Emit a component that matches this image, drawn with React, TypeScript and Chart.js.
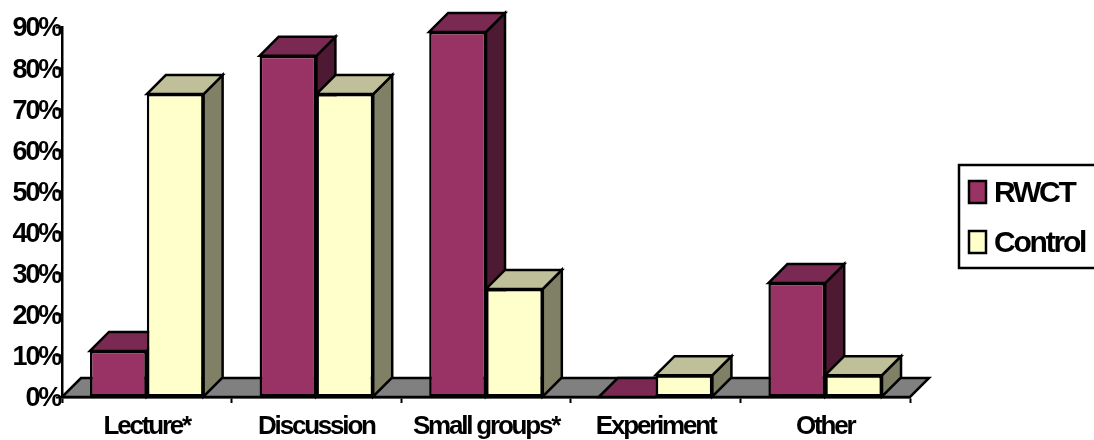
import React, { useEffect, useRef } from "react";
import { Chart, registerables } from "chart.js";

Chart.register(...registerables);

const categories = ["Lecture*", "Discussion", "Small groups*", "Experiment", "Other"];
const rwctValues = [11.2, 83, 88.8, 0, 27.7];
const controlValues = [73.7, 73.7, 26.3, 5.3, 5.3];

const FONT = "'Liberation Sans', Arial, sans-serif";
const DEPTH = 19;
const STROKE = "#000000";
const LINE = 2.5;
const TRACKING = "-2.2px";

const palette = {
  rwct: { front: "#993366", top: "#7A2952", side: "#4D1933" },
  control: { front: "#FFFFCC", top: "#BFBF99", side: "#808066" },
  floor: "#808080",
};

function polygon(ctx: CanvasRenderingContext2D, pts: number[][], fill: string) {
  ctx.beginPath();
  pts.forEach(([x, y], i) => (i ? ctx.lineTo(x, y) : ctx.moveTo(x, y)));
  ctx.closePath();
  ctx.fillStyle = fill;
  ctx.fill();
  ctx.strokeStyle = STROKE;
  ctx.lineWidth = LINE;
  ctx.lineJoin = "miter";
  ctx.stroke();
}

// Tight tracking applies to all chart text, and must be set before text is measured.
const tightText = {
  id: "tightText",
  beforeUpdate(chart: any) {
    chart.ctx.letterSpacing = TRACKING;
  },
  beforeDraw(chart: any) {
    chart.ctx.letterSpacing = TRACKING;
  },
};

// Framed key at the right edge; its frame runs off the canvas on that side.
const framedKey = {
  id: "framedKey",
  afterDraw(chart: any) {
    const ctx = chart.ctx;
    ctx.save();
    ctx.strokeStyle = STROKE;
    ctx.lineWidth = LINE;
    ctx.strokeRect(959, 165, 160, 103);
    ctx.font = `bold 30px ${FONT}`;
    ctx.textAlign = "left";
    ctx.textBaseline = "middle";
    chart.data.datasets.forEach((dataset: any, i: number) => {
      const cy = 192 + i * 50;
      ctx.fillStyle = dataset.backgroundColor;
      ctx.fillRect(969, cy - 11, 17, 22);
      ctx.strokeRect(969, cy - 11, 17, 22);
      ctx.fillStyle = "#000000";
      ctx.fillText(dataset.label, 994, cy + 2);
    });
    ctx.restore();
  },
};

// Draws the floor and the top and side faces behind each bar's front face.
const extrusion = {
  id: "extrusion",
  beforeDatasetsDraw(chart: any) {
    const ctx = chart.ctx;
    const { left, right, bottom } = chart.chartArea;
    ctx.save();
    polygon(
      ctx,
      [
        [left, bottom],
        [left + DEPTH, bottom - DEPTH],
        [right + DEPTH, bottom - DEPTH],
        [right, bottom],
      ],
      palette.floor
    );
    const shades = [palette.rwct, palette.control];
    categories.forEach((_, index) => {
      shades.forEach((shade, datasetIndex) => {
        const bar = chart.getDatasetMeta(datasetIndex).data[index];
        const x0 = bar.x - bar.width / 2;
        const x1 = bar.x + bar.width / 2;
        const yTop = bar.y;
        const yBase = bar.base;
        polygon(
          ctx,
          [
            [x1, yTop],
            [x1 + DEPTH, yTop - DEPTH],
            [x1 + DEPTH, yBase - DEPTH],
            [x1, yBase],
          ],
          shade.side
        );
        polygon(
          ctx,
          [
            [x0, yTop],
            [x0 + DEPTH, yTop - DEPTH],
            [x1 + DEPTH, yTop - DEPTH],
            [x1, yTop],
          ],
          shade.top
        );
      });
    });
    ctx.restore();
  },
};

export default function App() {
  const canvasRef = useRef<HTMLCanvasElement | null>(null);

  useEffect(() => {
    const chart = new Chart(canvasRef.current as HTMLCanvasElement, {
      type: "bar",
      data: {
        labels: categories,
        datasets: [
          {
            label: "RWCT",
            data: rwctValues,
            backgroundColor: palette.rwct.front,
            borderColor: STROKE,
            borderWidth: LINE,
            borderSkipped: false,
          },
          {
            label: "Control",
            data: controlValues,
            backgroundColor: palette.control.front,
            borderColor: STROKE,
            borderWidth: LINE,
            borderSkipped: false,
          },
        ],
      },
      options: {
        responsive: false,
        animation: false,
        categoryPercentage: 0.67,
        barPercentage: 1,
        layout: { padding: { top: 27, right: 184, left: 0, bottom: 0 } },
        plugins: {
          tooltip: { enabled: false },
          legend: { display: false },
        },
        scales: {
          x: {
            border: { display: true, color: STROKE, width: LINE },
            grid: {
              offset: true,
              drawOnChartArea: false,
              drawTicks: true,
              tickLength: 6,
              tickColor: STROKE,
              tickWidth: 2,
            },
            ticks: {
              color: "#000000",
              padding: 8,
              maxRotation: 0,
              autoSkip: false,
              font: { family: FONT, size: 26, weight: "bold" },
            },
            afterFit: (scale: any) => {
              scale.height = 43;
            },
          },
          y: {
            min: 0,
            max: 90,
            border: { display: true, color: STROKE, width: LINE },
            grid: {
              drawOnChartArea: false,
              drawTicks: true,
              tickLength: 6,
              tickColor: STROKE,
              tickWidth: 2,
            },
            ticks: {
              stepSize: 10,
              color: "#000000",
              padding: -4,
              labelOffset: 2,
              font: { family: FONT, size: 27, weight: "bold" },
              callback: (value: any) => `${value}%`,
            },
            afterFit: (scale: any) => {
              scale.width = 62;
            },
          },
        },
      } as any,
      plugins: [tightText, framedKey, extrusion],
    } as any);
    return () => chart.destroy();
  }, []);

  return (
    <div style={{ position: "fixed", left: 0, top: 0, width: 1094, height: 440, background: "#ffffff" }}>
      <canvas ref={canvasRef} width={1094} height={440} style={{ display: "block" }} />
    </div>
  );
}
